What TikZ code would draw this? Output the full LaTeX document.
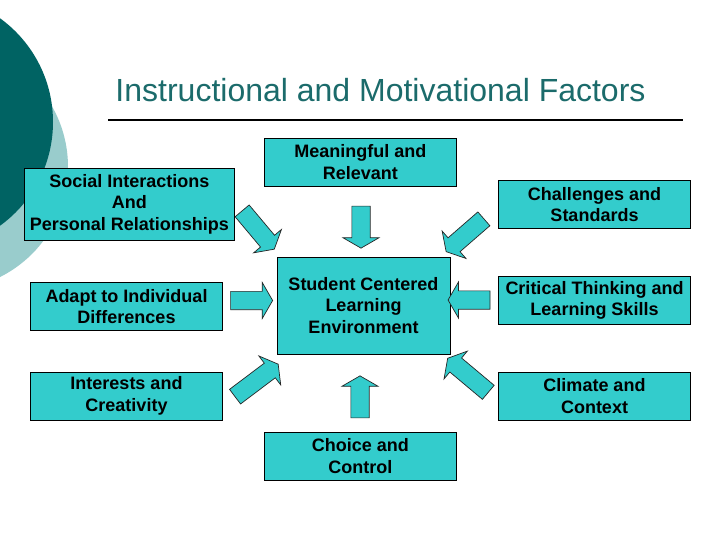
\documentclass[tikz,border=0pt]{standalone}
\usepackage{fontspec}
\setmainfont{Liberation Sans}
\usetikzlibrary{shapes.arrows}
\definecolor{darkteal}{RGB}{0,99,99}
\definecolor{lightteal}{RGB}{153,204,204}
\definecolor{boxfill}{RGB}{51,204,204}
\definecolor{titleteal}{RGB}{27,107,107}
\tikzset{
  box/.style={
    rectangle,
    minimum width=192bp,
    minimum height=48bp,
    inner sep=0pt,
    align=center,
    draw=black,
    line width=0.8bp,
    fill=boxfill,
    font=\bfseries\fontsize{18bp}{21.5bp}\selectfont
  },
  barrow/.style={
    single arrow,
    single arrow head extend=9bp,
    single arrow tip angle=120,
    inner xsep=0pt,
    inner ysep=8.8bp,
    minimum height=42bp,
    draw=black!85,
    line width=0.7bp,
    fill=boxfill
  },
  heading/.style={
    anchor=base,
    inner sep=0pt,
    text=titleteal,
    font=\fontsize{32bp}{36bp}\selectfont
  }
}

\begin{document}
\begin{tikzpicture}[x=1bp, y=-1bp]
  \path[use as bounding box, fill=white] (0,0) rectangle (720,540);
  \begin{scope}
    \clip (0,0) rectangle (720,540);
    \fill[lightteal] (-55,167) circle[radius=123bp];
    \fill[darkteal] (-75,122) circle[radius=128bp];
  \end{scope}

  \node (title) [heading] at (380.5,101.7) {Instructional and Motivational Factors};
  \draw[line width=2bp] (108,120) -- (683,120);

  \node (social) [box, minimum width=209bp, minimum height=72bp] at (129.4,204) {Social Interactions\\And\\Personal Relationships};
  \node (meaning) [box] at (360.3,162) {Meaningful and\\Relevant};
  \node (challenge) [box] at (594.5,204.5) {Challenges and\\Standards};
  \node (adapt) [box] at (126.5,306.5) {Adapt to Individual\\Differences};
  \node (student) [box, minimum width=173bp, minimum height=97bp] at (363.5,305.5) {Student Centered\\Learning\\Environment};
  \node (critical) [box] at (594.5,300.5) {Critical Thinking and\\Learning Skills};
  \node (interest) [box] at (126.5,396) {Interests and\\Creativity};
  \node (climate) [box] at (594.5,396) {Climate and\\Context};
  \node (choice) [box] at (360.3,456) {Choice and\\Control};

  \node (a-social) [barrow, rotate=-50, minimum height=50bp] at (256.5,228) {};
  \node (a-meaning) [barrow, rotate=-90] at (361,224.5) {};
  \node (a-challenge) [barrow, rotate=-139, minimum height=50bp] at (467,233.5) {};
  \node (a-adapt) [barrow] at (249,300.5) {};
  \node (a-critical) [barrow, rotate=180] at (471.7,300) {};
  \node (a-interest) [barrow, rotate=37, minimum height=54bp] at (254.5,382) {};
  \node (a-climate) [barrow, rotate=140, minimum height=53bp] at (470,377) {};
  \node (a-choice) [barrow, rotate=90] at (360,399.5) {};
\end{tikzpicture}
\end{document}
